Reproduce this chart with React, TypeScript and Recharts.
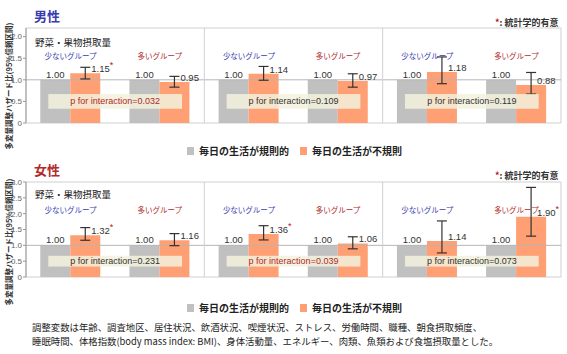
import React from 'react';
import { BarChart, Bar, XAxis, YAxis, ErrorBar, LabelList, ReferenceLine, ReferenceArea, ReferenceDot } from 'recharts';

const panels = ['全循環器疾患', '脳卒中', '虚血性心疾患'];
const groups = ['少ないグループ', '多いグループ'];
const regularHR = [1.0, 1.0, 1.0, 1.0, 1.0, 1.0];

// 男性
const menHR = [1.15, 0.95, 1.14, 0.97, 1.18, 0.88];
const menLower = [1.02, 0.83, 0.99, 0.83, 0.91, 0.67];
const menUpper = [1.29, 1.08, 1.31, 1.14, 1.53, 1.17];
const menSig = [true, false, false, false, false, false];
const menP = [0.032, 0.109, 0.119];
const menTicks = [0, 0.5, 1.0, 1.5, 2.0];

// 女性
const womenHR = [1.32, 1.16, 1.36, 1.06, 1.14, 1.9];
const womenLower = [1.16, 0.99, 1.17, 0.89, 0.76, 1.29];
const womenUpper = [1.56, 1.37, 1.62, 1.27, 1.77, 2.83];
const womenSig = [true, false, true, false, false, true];
const womenP = [0.231, 0.039, 0.073];
const womenTicks = [0, 0.5, 1.0, 1.5, 2.0, 2.5, 3.0];

const FONT = "'Liberation Sans', 'Noto Sans CJK JP', sans-serif";
const JP = "'Noto Sans CJK JP', sans-serif";
const GRAY = '#c0c0c0';
const ORANGE = '#ff9f74';
const BLUE = '#3b3bb0';
const RED = '#b02a2a';

const buildRows = (hr: number[], lo: number[], hi: number[], sig: boolean[]) =>
  panels.flatMap((panel, pi) =>
    groups.map((group, gi) => {
      const i = pi * 2 + gi;
      return {
        key: `${panel}-${group}`,
        panel,
        group,
        regular: regularHR[i],
        irregular: hr[i],
        err: [hr[i] - lo[i], hi[i] - hr[i]],
        sig: sig[i],
      };
    })
  );

const makeHRLabel = (rows: any[]) => (props: any) => {
  const { x, y, width, index, value } = props;
  const row = rows[index];
  return (
    <text x={x + width / 2 + 6} y={y - 1} fontSize={9.5} fontFamily={FONT} fill="#333">
      {Number(value).toFixed(2)}
      {row && row.sig ? (
        <tspan fill="#c0101a" fontSize={9} dy={-4}>
          *
        </tspan>
      ) : null}
    </text>
  );
};

const makePBox = (p: number) => (props: any) => {
  const { x, y, width, height } = props;
  if (!(height > 1) || !(width > 1)) return null;
  const inset = width * 0.125;
  return (
    <g>
      <rect x={x + inset} y={y} width={width - inset * 2} height={height} fill="#f3f1dc" fillOpacity={0.85} />
      <text
        x={x + width / 2}
        y={y + height / 2 + 3}
        textAnchor="middle"
        fontSize={9}
        fontFamily={FONT}
        fill={p < 0.05 ? RED : '#333'}
      >
        {`p for interaction=${p.toFixed(3)}`}
      </text>
    </g>
  );
};

interface PanelProps {
  hr: number[];
  lo: number[];
  hi: number[];
  sig: boolean[];
  pValues: number[];
  ticks: number[];
}

function HRChart({ hr, lo, hi, sig, pValues, ticks }: PanelProps) {
  const rows = buildRows(hr, lo, hi, sig);
  const yMax = ticks[ticks.length - 1] === 2.0 ? 2.2 : ticks[ticks.length - 1];
  return (
    <BarChart
      width={567}
      height={140}
      data={rows}
      margin={{ top: 28, right: 6, left: 0, bottom: 0 }}
      barCategoryGap="16%"
      barGap={0}
    >
      <XAxis dataKey="key" hide />
      <XAxis
        xAxisId="panel"
        dataKey="panel"
        allowDuplicatedCategory={false}
        height={17}
        tickLine={false}
        tickSize={0}
        tickMargin={2}
        axisLine={{ stroke: '#bbb' }}
        tick={{ fontSize: 12, fill: '#333', fontFamily: JP }}
      />
      <YAxis
        width={26}
        domain={[0, yMax]}
        ticks={ticks}
        tickSize={3}
        tickMargin={1}
        interval={0}
        axisLine={{ stroke: '#999' }}
        tickLine={{ stroke: '#999' }}
        tick={{ fontSize: 8, fill: '#666', fontFamily: FONT }}
        tickFormatter={(v: number) => (v === 0 ? '0' : v.toFixed(1))}
      />
      <ReferenceArea y1={0} y2={yMax} fill="none" stroke="#d0d0d0" />
      <ReferenceLine y={1} stroke="#b5b5b5" />
      <ReferenceLine x={rows[2].key} position="start" stroke="#d0d0d0" />
      <ReferenceLine x={rows[4].key} position="start" stroke="#d0d0d0" />
      {rows.map((r) => (
        <ReferenceDot
          key={'g-' + r.key}
          x={r.key}
          y={yMax}
          r={0}
          fill="none"
          stroke="none"
          label={{
            value: r.group,
            position: 'bottom',
            offset: 26,
            fontSize: 7.5,
            fontFamily: JP,
            fill: r.group === groups[0] ? BLUE : RED,
          }}
        />
      ))}
      <Bar dataKey="regular" fill={GRAY} isAnimationActive={false}>
        <LabelList
          dataKey="regular"
          position="top"
          offset={2}
          fontSize={9.5}
          fontFamily={FONT}
          fill="#333"
          formatter={(v: number) => v.toFixed(2)}
        />
      </Bar>
      <Bar dataKey="irregular" fill={ORANGE} isAnimationActive={false}>
        <ErrorBar dataKey="err" width={5} stroke="#333" strokeWidth={1.2} direction="y" />
        <LabelList dataKey="irregular" content={makeHRLabel(rows)} />
      </Bar>
      {panels.map((panel, pi) => (
        <ReferenceArea
          key={panel}
          x1={rows[pi * 2].key}
          x2={rows[pi * 2 + 1].key}
          y1={0.33}
          y2={0.67}
          shape={makePBox(pValues[pi])}
          zIndex={1000}
        />
      ))}
    </BarChart>
  );
}

const abs = (left: number, top: number): React.CSSProperties => ({ position: 'absolute', left, top, whiteSpace: 'nowrap' });

function Legend({ top }: { top: number }) {
  const item = (color: string, text: string, left: number) => (
    <div style={{ ...abs(left, top), display: 'flex', alignItems: 'center', fontFamily: JP, fontSize: 10, fontWeight: 700, color: '#222' }}>
      <span style={{ display: 'inline-block', width: 7, height: 8, background: color, marginRight: 5 }} />
      {text}
    </div>
  );
  return (
    <>
      {item(GRAY, '毎日の生活が規則的', 187)}
      {item(ORANGE, '毎日の生活が不規則', 300)}
    </>
  );
}

function SideLabel({ centerY }: { centerY: number }) {
  return (
    <div
      style={{
        position: 'absolute',
        left: 8,
        top: centerY,
        transform: 'translate(-50%, -50%) rotate(-90deg)',
        fontFamily: JP,
        fontSize: 7.5,
        fontWeight: 700,
        color: '#333',
        whiteSpace: 'nowrap',
      }}
    >
      多変量調整ハザード比(95%信頼区間)
    </div>
  );
}

function SigNote({ top }: { top: number }) {
  return (
    <div style={{ ...abs(495, top), fontFamily: JP, fontSize: 9, fontWeight: 700, color: '#333' }}>
      <span style={{ color: '#c0101a' }}>*</span>: 統計学的有意
    </div>
  );
}

export default function App() {
  return (
    <div style={{ position: 'relative', width: 567, height: 354, background: '#fff', overflow: 'hidden' }}>
      <style>{'body{margin:0}'}</style>
      <div style={{ position: 'absolute', left: 0, top: 0 }}>
        <HRChart hr={menHR} lo={menLower} hi={menUpper} sig={menSig} pValues={menP} ticks={menTicks} />
      </div>
      <div style={{ position: 'absolute', left: 0, top: 154 }}>
        <HRChart hr={womenHR} lo={womenLower} hi={womenUpper} sig={womenSig} pValues={womenP} ticks={womenTicks} />
      </div>

      <div style={{ ...abs(34, 6), fontFamily: JP, fontSize: 13, fontWeight: 700, color: BLUE }}>男性</div>
      <div style={{ ...abs(34, 160), fontFamily: JP, fontSize: 13, fontWeight: 700, color: RED }}>女性</div>

      <div style={{ ...abs(35, 35), fontFamily: JP, fontSize: 9.5, color: '#222' }}>野菜・果物摂取量</div>
      <div style={{ ...abs(35, 187), fontFamily: JP, fontSize: 9.5, color: '#222' }}>野菜・果物摂取量</div>

      <SigNote top={16} />
      <SigNote top={169} />

      <SideLabel centerY={86} />
      <SideLabel centerY={242} />

      <Legend top={143} />
      <Legend top={300} />

      <div style={{ ...abs(32, 320), fontFamily: JP, fontSize: 9.4, lineHeight: '14px', color: '#222' }}>
        調整変数は年齢、調査地区、居住状況、飲酒状況、喫煙状況、ストレス、労働時間、職種、朝食摂取頻度、
        <br />
        睡眠時間、体格指数(body mass index: BMI)、身体活動量、エネルギー、肉類、魚類および食塩摂取量とした。
      </div>
    </div>
  );
}
